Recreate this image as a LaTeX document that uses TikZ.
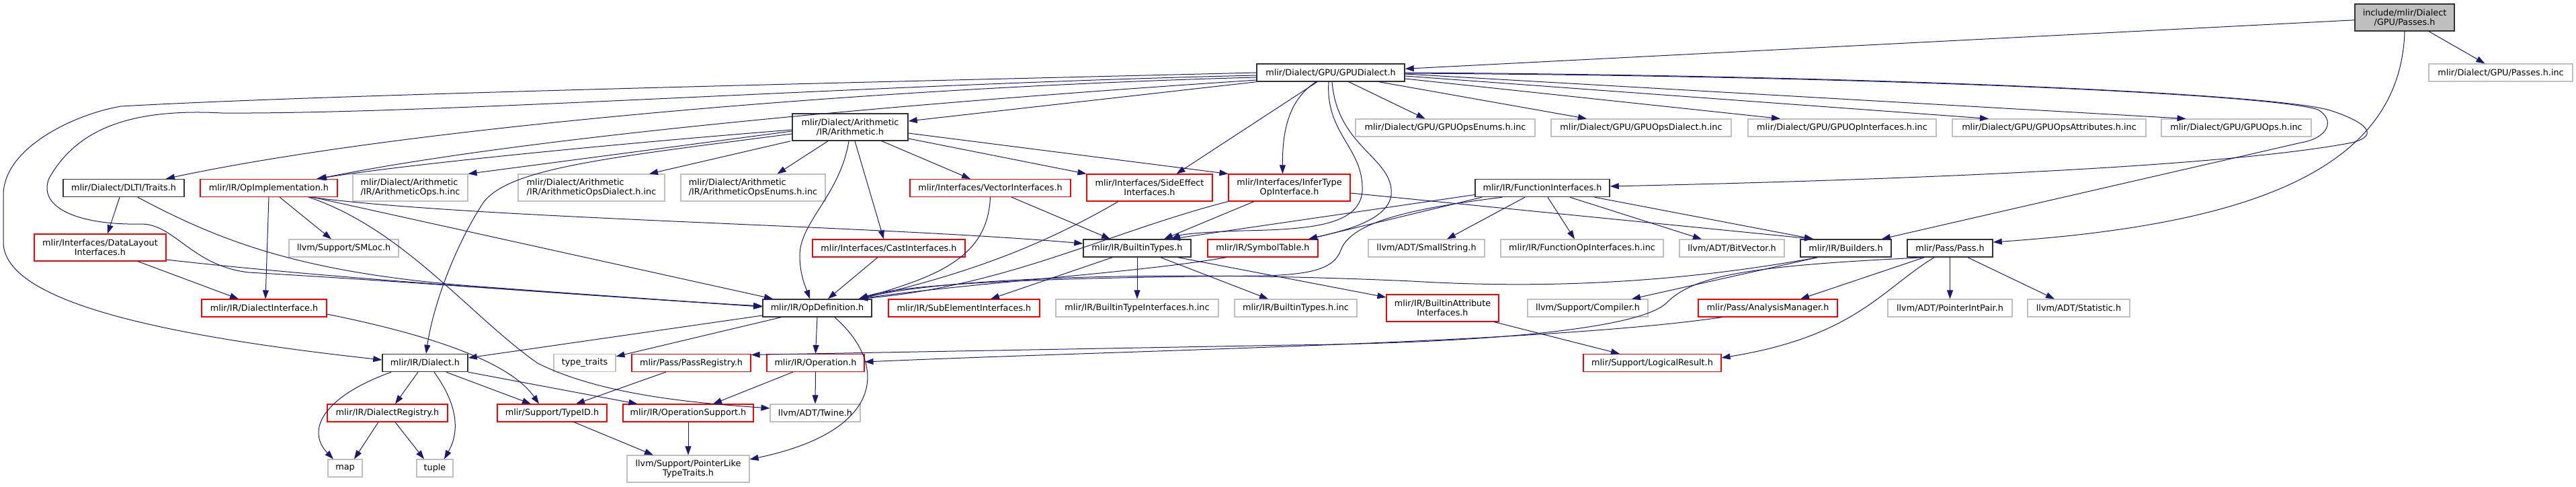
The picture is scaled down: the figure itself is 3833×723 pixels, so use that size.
\documentclass[tikz,border=0pt]{standalone}
\usepackage{fontspec}
\setmainfont{DejaVu Sans}
\usetikzlibrary{arrows.meta}
\usepackage{xcolor}
\definecolor{edgeblue}{HTML}{191970}
\definecolor{nodegray}{HTML}{BFBFBF}

\begin{document}
\begin{tikzpicture}[
    x=1pt, y=-1pt,
    every node/.style={font=\fontsize{12.8}{14}\selectfont},
    hnode/.style={
        draw,
        rectangle,
        inner sep=0pt,
        minimum height=26pt,
        align=center,
        line width=1.1pt
    },
    hblack/.style={hnode, draw=black!80, line width=1.5pt},
    hred/.style={hnode, draw=red},
    hext/.style={hnode, draw=nodegray},
    hroot/.style={hnode, draw=black!80, fill=nodegray, line width=1.5pt},
    dep/.style={
        draw=edgeblue,
        line width=1pt,
        ->,
        >={Triangle[length=13pt,width=9pt]}
    }
]

\useasboundingbox (0,0) rectangle (3833,723);

% ============================================================
% HEADERS
% ============================================================

\node[hroot, minimum width=148pt, minimum height=40pt] (passesh) at (3578,26) {include/mlir/Dialect\\/GPU/Passes.h};

\node[hblack, minimum width=220pt] (gpudialect) at (1980,108) {mlir/Dialect/GPU/GPUDialect.h};
\node[hext, minimum width=214pt] (passesinc) at (3721,108) {mlir/Dialect/GPU/Passes.h.inc};

\node[hblack, minimum width=172pt, minimum height=40pt] (arith) at (1265,189) {mlir/Dialect/Arithmetic\\/IR/Arithmetic.h};
\node[hext, minimum width=267pt] (gpuenums) at (2150.5,190) {mlir/Dialect/GPU/GPUOpsEnums.h.inc};
\node[hext, minimum width=268pt] (gpudialinc) at (2442,190) {mlir/Dialect/GPU/GPUOpsDialect.h.inc};
\node[hext, minimum width=280pt] (gpuopifaces) at (2741,190) {mlir/Dialect/GPU/GPUOpInterfaces.h.inc};
\node[hext, minimum width=288pt] (gpuattrs) at (3049,190) {mlir/Dialect/GPU/GPUOpsAttributes.h.inc};
\node[hext, minimum width=223pt] (gpuops) at (3327.5,190) {mlir/Dialect/GPU/GPUOps.h.inc};

\node[hblack, minimum width=180pt] (traits) at (184,279.5) {mlir/Dialect/DLTI/Traits.h};
\node[hred, minimum width=204pt] (opimpl) at (400,279.5) {mlir/IR/OpImplementation.h};
\node[hext, minimum width=171pt, minimum height=40pt, align=left] (arithops) at (610.5,279) {mlir/Dialect/Arithmetic\\/IR/ArithmeticOps.h.inc};
\node[hext, minimum width=218pt, minimum height=40pt, align=left] (arithdialect) at (880,279) {mlir/Dialect/Arithmetic\\/IR/ArithmeticOpsDialect.h.inc};
\node[hext, minimum width=215pt, minimum height=40pt, align=left] (arithenums) at (1120.5,279) {mlir/Dialect/Arithmetic\\/IR/ArithmeticOpsEnums.h.inc};
\node[hred, minimum width=239pt] (vector) at (1473.5,279.5) {mlir/Interfaces/VectorInterfaces.h};
\node[hred, minimum width=187pt, minimum height=40pt] (sideeffect) at (1710.5,279) {mlir/Interfaces/SideEffect\\Interfaces.h};
\node[hred, minimum width=181pt, minimum height=40pt] (infertype) at (1918.5,279) {mlir/Interfaces/InferType\\OpInterface.h};
\node[hblack, minimum width=200pt] (funcifaces) at (2295,279.5) {mlir/IR/FunctionInterfaces.h};

\node[hred, minimum width=196pt, minimum height=40pt] (datalayout) at (149,368) {mlir/Interfaces/DataLayout\\Interfaces.h};
\node[hext, minimum width=163pt] (smloc) at (511.5,369) {llvm/Support/SMLoc.h};
\node[hred, minimum width=227pt] (cast) at (1322.5,369) {mlir/Interfaces/CastInterfaces.h};
\node[hblack, minimum width=160pt] (builtintypes) at (1692,369) {mlir/IR/BuiltinTypes.h};
\node[hred, minimum width=164pt] (symboltable) at (1879,369) {mlir/IR/SymbolTable.h};
\node[hext, minimum width=173pt] (smallstring) at (2122.5,369) {llvm/ADT/SmallString.h};
\node[hext, minimum width=242pt] (funcopinc) at (2354,369) {mlir/IR/FunctionOpInterfaces.h.inc};
\node[hext, minimum width=156pt] (bitvector) at (2577,369) {llvm/ADT/BitVector.h};
\node[hblack, minimum width=135pt] (builders) at (2746.5,369) {mlir/IR/Builders.h};
\node[hblack, minimum width=127pt] (pass) at (2901.5,369) {mlir/Pass/Pass.h};

\node[hred, minimum width=186pt] (dialectiface) at (393,458) {mlir/IR/DialectInterface.h};
\node[hblack, minimum width=162pt] (opdef) at (1216,458) {mlir/IR/OpDefinition.h};
\node[hred, minimum width=225pt] (subelement) at (1434.5,458) {mlir/IR/SubElementInterfaces.h};
\node[hext, minimum width=242pt] (builtintypeinc) at (1692,458) {mlir/IR/BuiltinTypeInterfaces.h.inc};
\node[hext, minimum width=182pt] (builtintypesinc) at (1928,458) {mlir/IR/BuiltinTypes.h.inc};
\node[hred, minimum width=167pt, minimum height=40pt] (builtinattr) at (2146.5,458) {mlir/IR/BuiltinAttribute\\Interfaces.h};
\node[hext, minimum width=179pt] (compiler) at (2362.5,458) {llvm/Support/Compiler.h};
\node[hred, minimum width=207pt] (analysis) at (2630.5,458) {mlir/Pass/AnalysisManager.h};
\node[hext, minimum width=185pt] (pointerint) at (2901.5,458) {llvm/ADT/PointerIntPair.h};
\node[hext, minimum width=152pt] (statistic) at (3093,458) {llvm/ADT/Statistic.h};

\node[hblack, minimum width=127pt] (dialect) at (632.5,539.5) {mlir/IR/Dialect.h};
\node[hext, minimum width=92pt] (typetraits) at (870,539.5) {type\_traits};
\node[hred, minimum width=177pt] (passregistry) at (1028.5,539.5) {mlir/Pass/PassRegistry.h};
\node[hred, minimum width=145pt] (operation) at (1213.5,539.5) {mlir/IR/Operation.h};
\node[hred, minimum width=205pt] (logicalresult) at (2458.5,539.5) {mlir/Support/LogicalResult.h};

\node[hred, minimum width=179pt] (dialectregistry) at (576.5,614) {mlir/IR/DialectRegistry.h};
\node[hred, minimum width=163pt] (typeid) at (821.5,614) {mlir/Support/TypeID.h};
\node[hred, minimum width=194pt] (opsupport) at (1024,614) {mlir/IR/OperationSupport.h};
\node[hext, minimum width=134pt] (twine) at (1213,614) {llvm/ADT/Twine.h};

\node[hext, minimum width=51pt] (map) at (513.5,696) {map};
\node[hext, minimum width=54pt] (tuple) at (647,696) {tuple};
\node[hext, minimum width=182pt, minimum height=40pt] (pointerlike) at (1024,697) {llvm/Support/PointerLike\\TypeTraits.h};

% ============================================================
% INCLUDES
% ============================================================

% Passes.h
\draw[dep] (passesh) -- (gpudialect);
\draw[dep] (passesh) -- (passesinc);
\draw[dep] (passesh.south) .. controls (3572,260) and (3330,335) .. ([yshift=9pt]pass.east);

% GPUDialect.h
\draw[dep] (gpudialect.west) .. controls (1300,122) and (500,140) .. (180,158)
    .. controls (110,170) and (5,220) .. (5,290) -- (5,360)
    .. controls (5,450) and (250,500) .. ([yshift=4.5pt]dialect.west);
\draw[dep] ([yshift=-4pt]gpudialect.west) .. controls (1300,125) and (650,170) .. (330,168)
    .. controls (180,160) and (110,200) .. (73,265)
    .. controls (55,310) and (120,335) .. (210,333)
    .. controls (260,333) and (285,395) .. (370,405)
    .. controls (600,418) and (950,445) .. ([yshift=3pt]opdef.west);
\draw[dep] ([yshift=-7pt]gpudialect.west) .. controls (1300,130) and (600,190) .. ([xshift=63pt]traits.north);
\draw[dep] ([yshift=-11pt]gpudialect.west) .. controls (1400,150) and (800,200) .. ([xshift=73pt]opimpl.north);
\draw[dep] (gpudialect.south west) -- ([yshift=9pt]arith.east);
\draw[dep] ([xshift=-20pt]gpudialect.south) -- ([xshift=40pt]sideeffect.north);
\draw[dep] ([xshift=-22pt]gpudialect.south) .. controls (1915,150) and (1908,200) .. ([xshift=-10pt]infertype.north);
\draw[dep] ([xshift=-3pt]gpudialect.south) .. controls (1972,200) and (2030,220) .. (2027,285)
    .. controls (2022,335) and (1950,341) .. (1850,343)
    .. controls (1790,345) and (1760,348) .. ([xshift=51pt]builtintypes.north);
\draw[dep] ([xshift=2pt]gpudialect.south) .. controls (1990,220) and (2075,235) .. (2070,290)
    .. controls (2065,330) and (1990,345) .. ([xshift=68pt]symboltable.north);
\draw[dep] ([xshift=27pt]gpudialect.south) -- ([xshift=-30pt]gpuenums.north);
\draw[dep] ([xshift=72pt]gpudialect.south) -- ([xshift=-81pt]gpudialinc.north);
\draw[dep] ([yshift=-9pt]gpudialect.east) -- ([xshift=-92pt]gpuopifaces.north);
\draw[dep] ([yshift=-5pt]gpudialect.east) -- ([xshift=-90pt]gpuattrs.north);
\draw[dep] ([yshift=-2pt]gpudialect.east) -- ([xshift=-75pt]gpuops.north);
\draw[dep] (gpudialect.east) .. controls (2800,112) and (3400,140) .. (3470,165)
    .. controls (3515,180) and (3545,200) .. (3500,212)
    .. controls (3300,250) and (2800,268) .. ([yshift=2.5pt]funcifaces.east);
\draw[dep] ([yshift=-1pt]gpudialect.east) .. controls (2800,113) and (3380,140) .. (3449,163)
    .. controls (3475,178) and (3465,205) .. (3424,212) -- ([xshift=53.5pt]builders.north);

% Arithmetic.h
\draw[dep] ([yshift=-6pt]arith.west) -- (arithops.north east);
\draw[dep] ([xshift=-2pt]arith.south west) -- ([xshift=86pt]arithdialect.north);
\draw[dep] ([xshift=-33pt]arith.south) -- ([xshift=36pt]arithenums.north);
\draw[dep] ([xshift=-2pt]arith.south) .. controls (1250,290) and (1190,330) .. (1190,380)
    .. controls (1190,410) and (1200,430) .. ([xshift=-11pt]opdef.north);
\draw[dep] ([xshift=7pt]arith.south) -- ([xshift=-7.5pt]cast.north);
\draw[dep] ([xshift=47pt]arith.south) -- ([xshift=-29.5pt]vector.north);
\draw[dep] ([yshift=-17pt]arith.east) -- (sideeffect.north west);
\draw[dep] ([yshift=-9pt]arith.east) -- (infertype.north west);
\draw[dep] ([yshift=-4pt]arith.west) .. controls (900,215) and (600,245) .. ([xshift=71pt]opimpl.north);
\draw[dep] ([yshift=-10pt]arith.west) .. controls (900,235) and (760,250) .. (720,300)
    .. controls (680,360) and (645,450) .. ([xshift=1.5pt]dialect.north);

% DLTI/Traits.h, DataLayoutInterfaces.h
\draw[dep] ([xshift=-6pt]traits.south) -- ([xshift=11pt]datalayout.north);
\draw[dep] ([xshift=21pt]traits.south) .. controls (330,360) and (450,405) .. (700,425)
    .. controls (900,440) and (1050,450) .. ([yshift=2pt]opdef.west);
\draw[dep] ([xshift=56pt]datalayout.south) -- ([xshift=-38pt]dialectiface.north);
\draw[dep] ([yshift=-18pt]datalayout.east) .. controls (500,415) and (900,440) .. ([yshift=2pt]opdef.west);

% OpImplementation.h
\draw[dep] (opimpl.south) -- ([xshift=2pt]dialectiface.north);
\draw[dep] ([xshift=16pt]opimpl.south) -- ([xshift=-18.5pt]smloc.north);
\draw[dep] ([xshift=65pt]opimpl.south) -- ([xshift=-66pt]opdef.north);
\draw[dep] ([xshift=59pt]opimpl.south) .. controls (600,340) and (700,470) .. (800,540)
    .. controls (900,590) and (1050,600) .. ([yshift=7pt]twine.west);
\draw[dep] ([xshift=62pt]opimpl.south) .. controls (700,325) and (1300,335) .. ([yshift=7pt]builtintypes.west);

% DialectInterface.h, Dialect.h, DialectRegistry.h
\draw[dep] ([yshift=-9pt]dialectiface.east) .. controls (650,500) and (760,540) .. ([xshift=-19.5pt]typeid.north);
\draw[dep] ([xshift=-50.5pt]dialect.south) .. controls (480,590) and (455,640) .. ([xshift=-17.5pt]map.north);
\draw[dep] ([xshift=-10.5pt]dialect.south) -- ([xshift=11.5pt]dialectregistry.north);
\draw[dep] ([xshift=13.5pt]dialect.south) .. controls (680,600) and (685,640) .. ([xshift=14pt]tuple.north);
\draw[dep] ([xshift=31.5pt]dialect.south) -- ([xshift=-31.5pt]typeid.north);
\draw[dep] (dialect.south east) -- ([xshift=22pt]opsupport.north west);
\draw[dep] ([xshift=-13.5pt]dialectregistry.south) -- ([xshift=13.5pt]map.north);
\draw[dep] ([xshift=11.5pt]dialectregistry.south) -- ([xshift=-16pt]tuple.north);
\draw[dep] ([xshift=32.5pt]typeid.south) -- ([xshift=-52pt]pointerlike.north);

% OpDefinition.h, Operation.h
\draw[dep] ([yshift=-11pt]opdef.west) -- ([yshift=7.5pt]dialect.east);
\draw[dep] ([xshift=-54pt]opdef.south) -- ([yshift=9.5pt]typetraits.east);
\draw[dep] (opdef.south) -- (operation.north);
\draw[dep] ([xshift=26pt]opdef.south) .. controls (1320,540) and (1320,640) .. ([yshift=14pt]pointerlike.east);
\draw[dep] ([xshift=-33.5pt]operation.south) -- ([xshift=37pt]opsupport.north);
\draw[dep] (operation.south) -- (twine.north);
\draw[dep] ([xshift=-37.5pt]passregistry.south) -- ([xshift=35.5pt]typeid.north);
\draw[dep] (opsupport.south) -- (pointerlike.north);

% Interfaces
\draw[dep] (vector.south) .. controls (1470,380) and (1400,410) .. ([xshift=62pt]opdef.north);
\draw[dep] ([xshift=31.5pt]vector.south) -- ([xshift=-40pt]builtintypes.north);
\draw[dep] ([xshift=-46.5pt]sideeffect.south) .. controls (1560,360) and (1450,405) .. ([xshift=62pt]opdef.north);
\draw[dep] (infertype.south west) .. controls (1650,345) and (1500,425) .. ([xshift=62pt]opdef.north);
\draw[dep] ([xshift=-52.5pt]infertype.south) -- ([xshift=40pt]builtintypes.north);
\draw[dep] ([yshift=-8pt]infertype.east) -- ([xshift=-48.5pt]builders.north);
\draw[dep] ([xshift=-16.5pt]cast.south) -- ([xshift=16pt]opdef.north);

% BuiltinTypes.h, SymbolTable.h
\draw[dep] ([xshift=-37pt]builtintypes.south) -- ([xshift=39.5pt]subelement.north);
\draw[dep] (builtintypes.south) -- (builtintypeinc.north);
\draw[dep] ([xshift=35pt]builtintypes.south) -- ([xshift=-41pt]builtintypesinc.north);
\draw[dep] ([xshift=61pt]builtintypes.south) -- ([yshift=16pt]builtinattr.west);
\draw[dep] ([xshift=-54pt]symboltable.south) .. controls (1700,405) and (1450,420) .. ([xshift=62pt]opdef.north);

% FunctionInterfaces.h
\draw[dep] ([yshift=-10pt]funcifaces.west) -- ([xshift=51pt]builtintypes.north);
\draw[dep] ([xshift=-90pt]funcifaces.south) -- ([xshift=68pt]symboltable.north);
\draw[dep] ([xshift=-60pt]funcifaces.south) .. controls (2100,310) and (2010,330) .. (1995,372)
    .. controls (1985,400) and (1950,408) .. (1880,410)
    .. controls (1600,412) and (1350,420) .. ([xshift=62pt]opdef.north);
\draw[dep] ([xshift=-26pt]funcifaces.south) -- ([xshift=30.5pt]smallstring.north);
\draw[dep] ([xshift=8pt]funcifaces.south) -- ([xshift=-11pt]funcopinc.north);
\draw[dep] ([xshift=41pt]funcifaces.south) -- ([xshift=-45pt]bitvector.north);
\draw[dep] ([xshift=78pt]funcifaces.south) -- ([xshift=-48.5pt]builders.north);

% Builders.h
\draw[dep] ([xshift=-42.5pt]builders.south) .. controls (2500,420) and (2300,430) .. (2100,418)
    .. controls (1700,400) and (1400,415) .. ([xshift=62pt]opdef.north);
\draw[dep] ([xshift=-42.5pt]builders.south) -- ([xshift=65.5pt]compiler.north);

% Pass.h
\draw[dep] ([xshift=-38.5pt]pass.south) -- ([xshift=48.5pt]analysis.north);
\draw[dep] ([xshift=-38.5pt]pass.south) .. controls (2600,395) and (2520,410) .. (2480,450)
    .. controls (2440,490) and (2200,510) .. (1920,513) -- ([yshift=12pt]passregistry.east);
\draw[dep] ([xshift=-23.5pt]pass.south) .. controls (2800,430) and (2760,500) .. ([yshift=7.5pt]logicalresult.east);
\draw[dep] (pass.south) -- (pointerint.north);
\draw[dep] ([xshift=26.5pt]pass.south) -- ([xshift=-36pt]statistic.north);

% AnalysisManager.h, BuiltinAttributeInterfaces.h
\draw[dep] ([xshift=-67.5pt]analysis.south) .. controls (2300,510) and (1700,520) .. ([yshift=1.5pt]operation.east);
\draw[dep] ([xshift=76.5pt]builtinattr.south) -- ([xshift=-48.5pt]logicalresult.north);

\end{tikzpicture}
\end{document}
